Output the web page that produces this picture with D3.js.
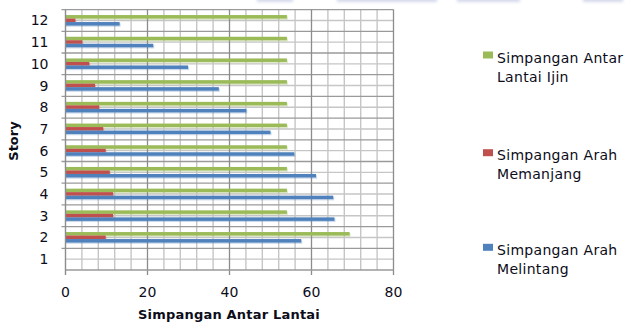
<!DOCTYPE html>
<html>
<head>
<meta charset="utf-8">
<script src="https://cdn.jsdelivr.net/npm/d3@7/dist/d3.min.js"></script>
<style>
  html, body { margin: 0; padding: 0; background: #ffffff; }
  svg { display: block; }
  text { font-family: "DejaVu Sans", sans-serif; fill: #0d0d1a; }
</style>
</head>
<body>
<svg id="chart" width="625" height="324"></svg>
<script>
// Story levels (bottom to top on the axis)
const stories = [1, 2, 3, 4, 5, 6, 7, 8, 9, 10, 11, 12];

// Allowable inter-storey drift
const ijin = [0, 69.3, 54, 54, 54, 54, 54, 54, 54, 54, 54, 54];
// Drift in the longitudinal direction
const memanjang = [0, 9.8, 11.6, 11.6, 10.8, 9.8, 9.2, 8.2, 7.2, 5.8, 4.1, 2.4];
// Drift in the transverse direction
const melintang = [0, 57.5, 65.6, 65.3, 61.1, 55.8, 50.0, 44.1, 37.4, 29.9, 21.4, 13.2];

const xTicks = [0, 20, 40, 60, 80];

const seriesNames = ["Simpangan Antar Lantai Ijin", "Simpangan Arah Memanjang", "Simpangan Arah Melintang"];
const seriesColors = ["#9bbb59", "#c0504d", "#4f81bd"];
const legendLines = [["Simpangan Antar", "Lantai Ijin"], ["Simpangan Arah", "Memanjang"], ["Simpangan Arah", "Melintang"]];

const series = [ijin, memanjang, melintang];

const svg = d3.select("#chart");

const plot = { left: 65.5, right: 393.5, top: 9.6, bottom: 270 };

const x = d3.scaleLinear().domain([0, 80]).range([plot.left, plot.right]);
const y = d3.scaleBand()
  .domain(stories.slice().reverse())
  .range([plot.top, plot.bottom])
  .paddingInner(0)
  .paddingOuter(0);

// inner band: group of three bars in the middle of each storey band
const inner = d3.scaleBand()
  .domain(d3.range(series.length))
  .range([-5.4, 5.1]);

// faint haze along the top edge
const haze = svg.append("defs").append("filter").attr("id", "haze")
  .attr("x", "-20%").attr("y", "-200%").attr("width", "140%").attr("height", "500%");
haze.append("feGaussianBlur").attr("stdDeviation", 1.5);
const hazeSegs = [[257, 293], [337, 437], [457, 520], [583, 623]];
svg.append("g").attr("filter", "url(#haze)")
  .selectAll("rect").data(hazeSegs).join("rect")
  .attr("x", d => d[0]).attr("width", d => d[1] - d[0])
  .attr("y", -3).attr("height", 5)
  .attr("fill", "#b9bedf").attr("opacity", 0.6);

// grid: minor vertical every 4 units, major every 20
const grid = svg.append("g");
const minorX = d3.range(0, 81, 4).filter(v => v % 20 !== 0);
grid.selectAll(".vminor").data(minorX).join("line")
  .attr("x1", d => x(d)).attr("x2", d => x(d))
  .attr("y1", plot.top).attr("y2", plot.bottom)
  .attr("stroke", "#c6c6c6").attr("stroke-width", 1.4);

// horizontal: storey boundaries (major) and mid-lines (minor)
const step = y.step();
const hMinor = stories.map(s => y(s) + step / 2);
grid.selectAll(".hminor").data(hMinor).join("line")
  .attr("x1", plot.left).attr("x2", plot.right)
  .attr("y1", d => d).attr("y2", d => d)
  .attr("stroke", "#c6c6c6").attr("stroke-width", 1.4);
const hMajor = stories.map(s => y(s));
grid.selectAll(".hmajor").data(hMajor).join("line")
  .attr("x1", plot.left - 4).attr("x2", plot.right)
  .attr("y1", d => d).attr("y2", d => d)
  .attr("stroke", "#9a9a9a").attr("stroke-width", 1.3);

grid.selectAll(".vmajor").data(xTicks.filter(v => v > 0)).join("line")
  .attr("x1", d => x(d)).attr("x2", d => x(d))
  .attr("y1", plot.top).attr("y2", plot.bottom + 5)
  .attr("stroke", "#8c8c8c").attr("stroke-width", 1.3);

// bottom edge
grid.append("line")
  .attr("x1", plot.left).attr("x2", plot.right)
  .attr("y1", plot.bottom).attr("y2", plot.bottom)
  .attr("stroke", "#9a9a9a").attr("stroke-width", 1.3);

// bars
const barsG = svg.append("g");
series.forEach((vals, si) => {
  const g = barsG.append("g");
  const rows = stories.map((s, i) => ({ s, v: vals[i] })).filter(d => d.v > 0);
  // soft shadow beneath each bar
  g.selectAll(".shadow").data(rows).join("rect")
    .attr("x", x(0)).attr("y", d => y(d.s) + step / 2 + inner(si) + 1.2)
    .attr("width", d => x(d.v) - x(0) + 1).attr("height", inner.bandwidth())
    .attr("fill", seriesColors[si]).attr("opacity", 0.3);
  g.selectAll(".bar").data(rows).join("rect")
    .attr("x", x(0)).attr("y", d => y(d.s) + step / 2 + inner(si))
    .attr("width", d => x(d.v) - x(0)).attr("height", inner.bandwidth())
    .attr("fill", seriesColors[si]);
});

// left axis line
svg.append("line")
  .attr("x1", plot.left).attr("x2", plot.left)
  .attr("y1", plot.top).attr("y2", plot.bottom + 5)
  .attr("stroke", "#8c8c8c").attr("stroke-width", 1.4);

// y axis labels
svg.append("g").selectAll("text").data(stories).join("text")
  .attr("x", 48.5).attr("y", d => y(d) + step / 2 + 5)
  .attr("text-anchor", "end").attr("font-size", 14)
  .text(d => d);

// x axis labels
svg.append("g").selectAll("text").data(xTicks).join("text")
  .attr("x", d => x(d)).attr("y", 297)
  .attr("text-anchor", "middle").attr("font-size", 14)
  .text(d => d);

// axis titles
svg.append("text")
  .attr("x", 229).attr("y", 319)
  .attr("text-anchor", "middle").attr("font-size", 13).attr("font-weight", "bold")
  .attr("letter-spacing", 0.2)
  .text("Simpangan Antar Lantai");

svg.append("text")
  .attr("transform", "translate(18,141) rotate(-90)")
  .attr("text-anchor", "middle").attr("font-size", 13).attr("font-weight", "bold")
  .text("Story");

// legend
const legendY = [55, 152.7, 247.3];
const legend = svg.append("g");
seriesNames.forEach((name, i) => {
  const item = legend.append("g");
  item.append("rect")
    .attr("x", 483).attr("y", legendY[i] - 3.5)
    .attr("width", 10).attr("height", 7)
    .attr("fill", seriesColors[i]);
  item.append("text")
    .attr("x", 497).attr("y", legendY[i] + 7.7)
    .attr("font-size", 14).attr("letter-spacing", 0.3)
    .selectAll("tspan").data(legendLines[i]).join("tspan")
    .attr("x", 497).attr("dy", (d, j) => j === 0 ? 0 : 19)
    .text(d => d);
});
</script>
</body>
</html>
